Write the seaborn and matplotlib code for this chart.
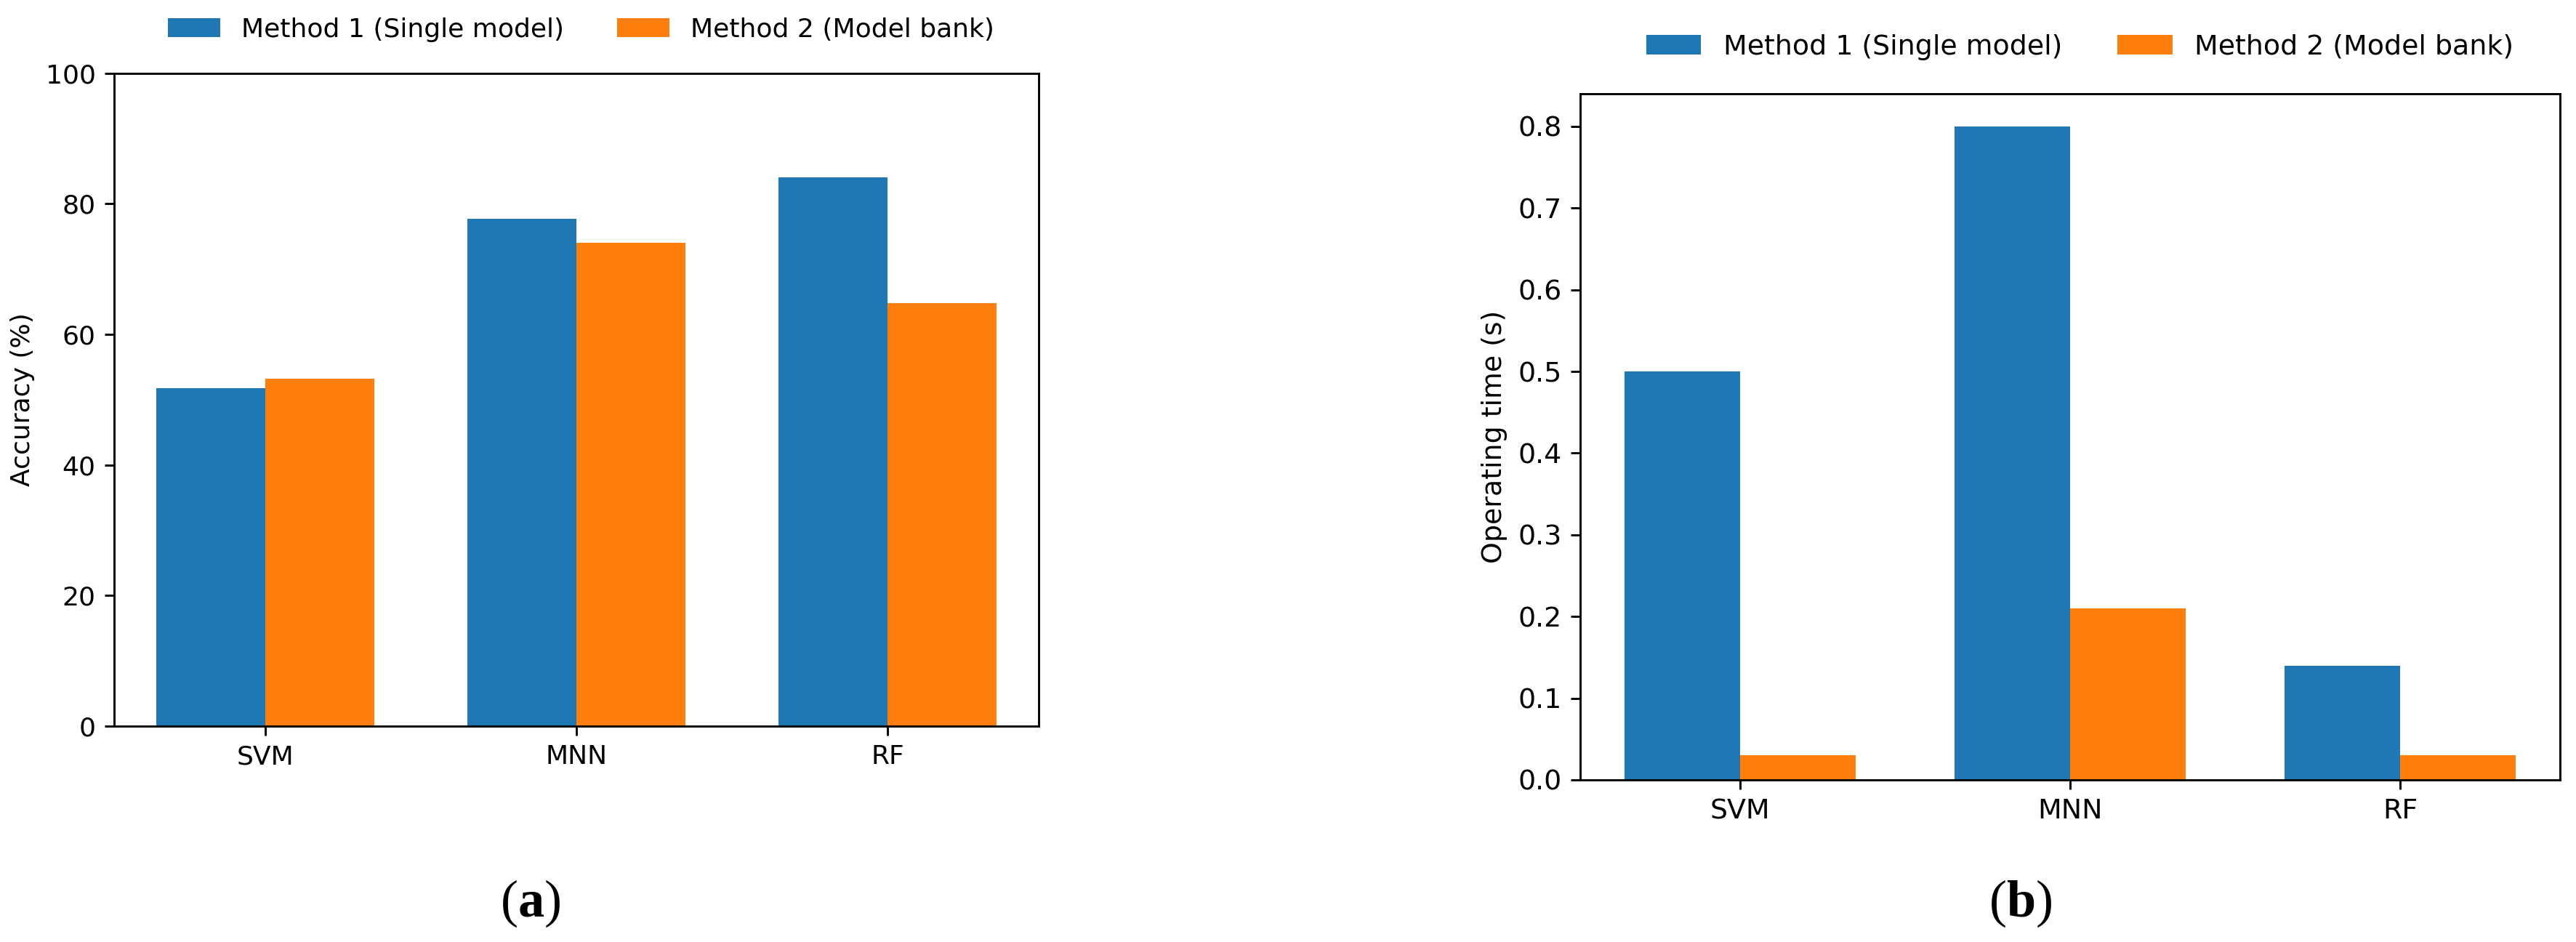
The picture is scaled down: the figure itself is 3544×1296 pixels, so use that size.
import pandas as pd
import matplotlib
matplotlib.use('Agg')
import matplotlib.pyplot as plt
import seaborn as sns

# data
models = ['SVM', 'MNN', 'RF']
methods = ['Method 1 (Single model)', 'Method 2 (Model bank)']
accuracy_m1 = [51.8, 77.7, 84.1]
accuracy_m2 = [53.2, 74.0, 64.8]
time_m1 = [0.50, 0.80, 0.14]
time_m2 = [0.03, 0.21, 0.03]
colors = ['#1f77b4', '#ff7f0e']

plt.rcParams['font.family'] = ['DejaVu Sans']
plt.rcParams['mathtext.fontset'] = 'custom'
plt.rcParams['mathtext.rm'] = 'Liberation Serif'
plt.rcParams['mathtext.bf'] = 'Liberation Serif:bold'


def long_table(v1, v2):
    return pd.DataFrame({
        'Model': models * 2,
        'Method': [methods[0]] * 3 + [methods[1]] * 3,
        'Value': list(v1) + list(v2),
    })


def draw(ax, df, ylabel, fs, legend_xy):
    sns.barplot(data=df, x='Model', y='Value', hue='Method', hue_order=methods,
                palette=colors, saturation=1, width=0.7, linewidth=0, ax=ax)
    ax.set_xlim(-0.485, 2.485)
    ax.set_xlabel('')
    ax.set_ylabel(ylabel, fontsize=fs)
    ax.tick_params(labelsize=fs)
    handles, labels = ax.get_legend_handles_labels()
    ax.legend(handles, labels, loc='center', bbox_to_anchor=legend_xy, ncol=2,
              frameon=False, fontsize=fs)
    for s in ax.spines.values():
        s.set_linewidth(0.8)


fig = plt.figure(figsize=(3544 / 260, 1296 / 260), dpi=260)

ax1 = fig.add_axes([0.0443, 0.2292, 0.3589, 0.6931])
draw(ax1, long_table(accuracy_m1, accuracy_m2), 'Accuracy (%)', 10, (0.505, 1.067))
ax1.set_ylim(0, 100)
ax1.set_yticks([0, 20, 40, 60, 80, 100])

ax2 = fig.add_axes([0.6134, 0.1721, 0.3804, 0.7284])
draw(ax2, long_table(time_m1, time_m2), 'Operating time (s)', 10.5, (0.51, 1.068))
ax2.set_ylim(0, 0.84)
ax2.set_yticks([0.0, 0.1, 0.2, 0.3, 0.4, 0.5, 0.6, 0.7, 0.8])

fig.text(730 / 3544, 1 - 1243 / 1296, r'$\mathrm{(}\mathbf{a}\mathrm{)}$',
         ha='center', va='center', fontsize=20)
fig.text(2780 / 3544, 1 - 1243 / 1296, r'$\mathrm{(}\mathbf{b}\mathrm{)}$',
         ha='center', va='center', fontsize=20)

fig.savefig('out.png', dpi=260, facecolor='white')
plt.close(fig)
